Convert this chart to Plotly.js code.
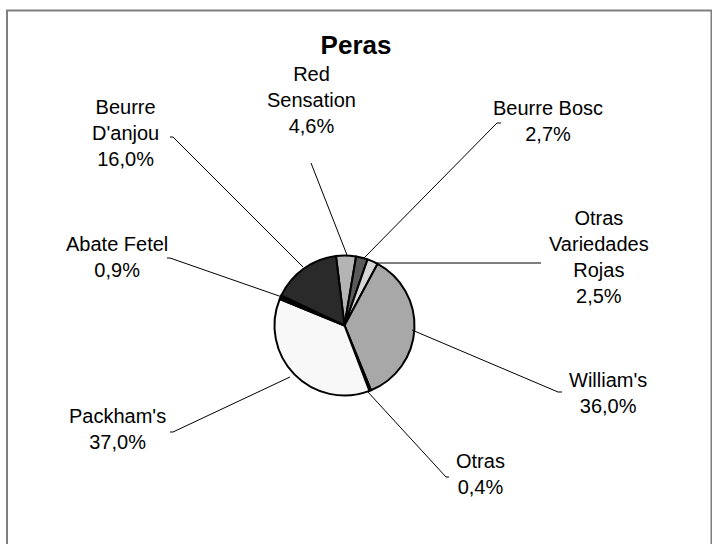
<!DOCTYPE html>
<html>
<head>
<meta charset="utf-8">
<script src="https://cdn.plot.ly/plotly-3.0.1.min.js"></script>
<style>
  html, body { margin: 0; padding: 0; background: #fff; }
  #fig { width: 712px; height: 544px; }
</style>
</head>
<body>
<div id="fig"></div>
<script>
// slices, clockwise from the top
var variedades = ["Red Sensation", "Beurre Bosc", "Otras Variedades Rojas", "William's",
                  "Otras", "Packham's", "Abate Fetel", "Beurre D'anjou"];
var etiquetas = ["Red<br>Sensation", "Beurre Bosc", "Otras<br>Variedades<br>Rojas", "William's",
                 "Otras", "Packham's", "Abate Fetel", "Beurre<br>D'anjou"];
var porcentajes = [4.6, 2.7, 2.5, 36.0, 0.4, 37.0, 0.9, 16.0];
var grises = ["#b4b4b4", "#5a5a5a", "#d6d6d6", "#a8a8a8",
              "#000000", "#f8f8f8", "#000000", "#2a2a2a"];

var W = 712, H = 544;
function px(x) { return x / W; }
function py(y) { return 1 - y / H; }

// pie placement (pixels)
var cx = 344.5, cy = 325.5, rad = 70;

// label anchor (pixels) and leader line points for each slice
var pos = [
  {x: 311, y: 100, line: [[347, 255], [311, 163]]},
  {x: 548, y: 121, line: [[364, 258], [497, 123], [501, 123]]},
  {x: 599, y: 257, line: [[375, 263], [541, 263]]},
  {x: 608, y: 393, line: [[412, 330], [558, 392], [562, 392]]},
  {x: 480, y: 474, line: [[367, 391], [446, 477], [449, 477]]},
  {x: 117, y: 429, line: [[290, 377], [173, 432], [170, 432]]},
  {x: 117, y: 257, line: [[282, 297], [170, 258], [167, 258]]},
  {x: 125, y: 133, line: [[303, 267], [173, 137], [170, 137]]}
];

function fmt(v) { return v.toFixed(1).replace('.', ',') + '%'; }

var annotations = [];
var shapes = [];
for (var i = 0; i < variedades.length; i++) {
  annotations.push({
    text: etiquetas[i] + '<br>' + fmt(porcentajes[i]),
    xref: 'paper', yref: 'paper', x: px(pos[i].x), y: py(pos[i].y),
    xanchor: 'center', yanchor: 'middle', showarrow: false,
    font: {family: 'Liberation Sans, Arial, sans-serif', size: 20, color: '#000'}
  });
  var path = '';
  pos[i].line.forEach(function (p, k) {
    path += (k ? ' L ' : 'M ') + px(p[0]) + ',' + py(p[1]);
  });
  shapes.push({type: 'path', xref: 'paper', yref: 'paper', path: path,
               line: {color: '#000', width: 1}});
}

// chart frame
shapes.push({type: 'rect', xref: 'paper', yref: 'paper',
             x0: px(7), x1: px(711.5), y0: py(560), y1: py(10.5),
             line: {color: '#7f7f7f', width: 2}});

var data = [{
  type: 'pie',
  labels: variedades,
  values: porcentajes,
  sort: false,
  direction: 'clockwise',
  rotation: -7,
  textinfo: 'none',
  hoverinfo: 'label+percent',
  marker: {colors: grises, line: {color: '#000', width: 2}},
  domain: {x: [px(cx - rad), px(cx + rad)], y: [py(cy + rad), py(cy - rad)]}
}];

var layout = {
  width: W, height: H,
  margin: {l: 0, r: 0, t: 0, b: 0},
  paper_bgcolor: '#fff',
  showlegend: false,
  title: {text: '<b>Peras</b>', x: 0.5, y: py(45), xanchor: 'center', yanchor: 'middle',
          font: {family: 'Liberation Sans, Arial, sans-serif', size: 26, color: '#000'}},
  annotations: annotations,
  shapes: shapes
};

Plotly.newPlot('fig', data, layout, {displayModeBar: false, staticPlot: true});
</script>
</body>
</html>
